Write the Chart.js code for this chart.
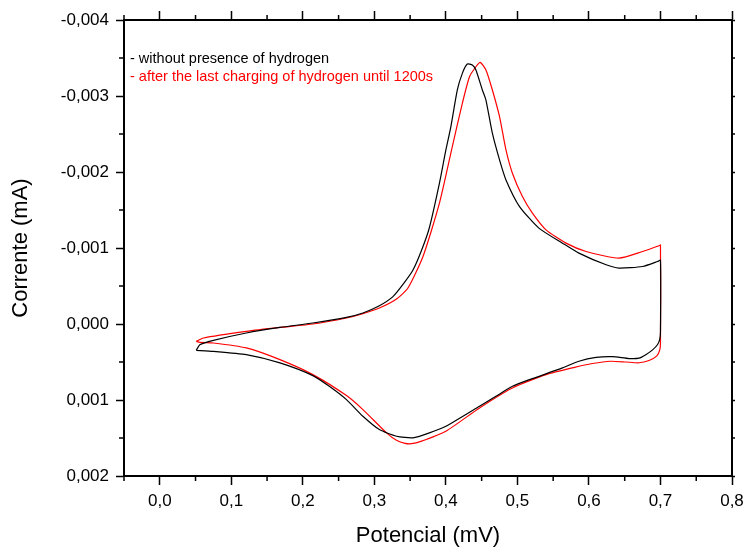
<!DOCTYPE html>
<html><head><meta charset="utf-8">
<script src="https://cdn.jsdelivr.net/npm/chart.js@4"></script>
<style>html,body{margin:0;padding:0;background:#fff}canvas{display:block}</style>
</head><body>
<canvas id="c" width="744" height="547"></canvas>
<script>
// Black: without presence of hydrogen (Potencial, Corrente)
const blackX = [0.051,0.056,0.075,0.121,0.168,0.214,0.261,0.284,0.307,0.326,0.340,0.354,0.366,0.377,0.391,0.400,0.407,0.416,0.423,0.430,0.437,0.442,0.451,0.456,0.465,0.475,0.484,0.503,0.530,0.563,0.586,0.624,0.642,0.675,0.696,0.700,0.700,0.699,0.696,0.689,0.680,0.670,0.656,0.633,0.610,0.586,0.563,0.517,0.493,0.470,0.447,0.400,0.377,0.354,0.331,0.307,0.284,0.261,0.237,0.214,0.168,0.121,0.075,0.051];
const blackY = [0.000347,0.000272,0.000215,0.000118,0.000045,-0.000013,-0.000087,-0.000145,-0.000240,-0.000360,-0.000520,-0.000710,-0.000970,-0.001270,-0.001853,-0.002290,-0.002597,-0.003079,-0.003298,-0.003420,-0.003407,-0.003342,-0.003079,-0.002947,-0.002510,-0.002159,-0.001896,-0.001545,-0.001262,-0.001064,-0.000933,-0.000779,-0.000736,-0.000757,-0.000823,-0.000840,0.000100,0.000200,0.000270,0.000340,0.000400,0.000450,0.000455,0.000430,0.000440,0.000490,0.000578,0.000732,0.000820,0.000951,0.001083,0.001346,0.001432,0.001498,0.001477,0.001389,0.001214,0.000995,0.000820,0.000679,0.000512,0.000403,0.000360,0.000347];
// Red: after the last charging of hydrogen until 1200s
const redX = [0.051,0.061,0.121,0.168,0.214,0.261,0.284,0.307,0.331,0.347,0.368,0.391,0.409,0.423,0.433,0.442,0.448,0.456,0.465,0.475,0.484,0.493,0.507,0.521,0.540,0.568,0.596,0.642,0.675,0.698,0.700,0.700,0.699,0.695,0.684,0.670,0.652,0.630,0.605,0.580,0.540,0.493,0.447,0.400,0.365,0.352,0.343,0.331,0.317,0.284,0.261,0.214,0.168,0.121,0.075,0.056,0.051];
const redY = [0.000229,0.000184,0.000097,0.000045,0.000000,-0.000079,-0.000135,-0.000210,-0.000329,-0.000473,-0.000888,-0.001590,-0.002334,-0.002904,-0.003254,-0.003385,-0.003443,-0.003342,-0.003079,-0.002728,-0.002290,-0.001984,-0.001677,-0.001459,-0.001239,-0.001064,-0.000954,-0.000867,-0.000954,-0.001029,-0.001040,0.000250,0.000340,0.000420,0.000480,0.000510,0.000500,0.000490,0.000520,0.000570,0.000666,0.000841,0.001104,0.001411,0.001545,0.001575,0.001570,0.001530,0.001432,0.001126,0.000942,0.000666,0.000469,0.000315,0.000250,0.000242,0.000229];

const xTickValues = [0,0.1,0.2,0.3,0.4,0.5,0.6,0.7,0.8];
const xTickLabels = ['0,0','0,1','0,2','0,3','0,4','0,5','0,6','0,7','0,8'];
const yTickValues = [-0.004,-0.003,-0.002,-0.001,0,0.001,0.002];
const yTickLabels = ['-0,004','-0,003','-0,002','-0,001','0,000','0,001','0,002'];
const xMinorValues = [-0.05,0.05,0.15,0.25,0.35,0.45,0.55,0.65,0.75];
const yMinorValues = [-0.0035,-0.0025,-0.0015,-0.0005,0.0005,0.0015];
const seriesLabels = ['- without presence of hydrogen','- after the last charging of hydrogen until 1200s'];
const seriesColors = ['#000000','#ff0000'];

const FONT = "'Liberation Sans', Arial, Helvetica, sans-serif";

const minorTicks = {
  id: 'minorTicks',
  afterDraw(chart) {
    const ctx = chart.ctx, s = chart.scales;
    ctx.save();
    ctx.strokeStyle = '#000';
    ctx.lineWidth = 1.5;
    ctx.beginPath();
    xMinorValues.forEach(v => {
      const px = s.x.getPixelForValue(v);
      ctx.moveTo(px, s.x.top); ctx.lineTo(px, s.x.top + 5);
      ctx.moveTo(px, s.x2.bottom); ctx.lineTo(px, s.x2.bottom - 5);
    });
    yMinorValues.forEach(v => {
      const py = s.y.getPixelForValue(v);
      ctx.moveTo(s.y.right, py); ctx.lineTo(s.y.right - 5, py);
      ctx.moveTo(s.y2.left, py); ctx.lineTo(s.y2.left + 3, py);
    });
    ctx.stroke();
    ctx.restore();
  }
};

const innerLegend = {
  id: 'innerLegend',
  afterDraw(chart) {
    const ctx = chart.ctx, a = chart.chartArea;
    ctx.save();
    ctx.font = '14.5px ' + FONT;
    ctx.textBaseline = 'middle';
    ctx.textAlign = 'left';
    seriesLabels.forEach((t, i) => {
      ctx.fillStyle = seriesColors[i];
      ctx.fillText(t, a.left + 6, a.top + 39 + i * 18);
    });
    ctx.restore();
  }
};

function pts(xs, ys) { return xs.map((x, i) => ({x: x, y: ys[i]})); }

const gridBase = {drawOnChartArea: false, drawTicks: true, tickColor: '#000', tickWidth: 1.5, color: '#000'};
const borderBase = {display: true, color: '#000', width: 2};
function noPad(s) { s.paddingLeft = 0; s.paddingRight = 0; s.paddingTop = 0; s.paddingBottom = 0; }

new Chart(document.getElementById('c'), {
  type: 'scatter',
  data: {
    datasets: [
      {label: seriesLabels[0], data: pts(blackX, blackY), showLine: true, borderColor: seriesColors[0], borderWidth: 1.2, pointRadius: 0, tension: 0.2, xAxisID: 'x', yAxisID: 'y'},
      {label: seriesLabels[1], data: pts(redX, redY), showLine: true, borderColor: seriesColors[1], borderWidth: 1.2, pointRadius: 0, tension: 0.2, xAxisID: 'x', yAxisID: 'y'}
    ]
  },
  options: {
    responsive: false,
    animation: false,
    devicePixelRatio: 1,
    layout: {padding: 0},
    plugins: {legend: {display: false}, tooltip: {enabled: false}},
    scales: {
      x: {
        type: 'linear', position: 'bottom', min: -0.05, max: 0.8,
        afterBuildTicks: s => { s.ticks = xTickValues.map(v => ({value: v})); },
        afterFit: s => { s.height = 71; noPad(s); },
        ticks: {callback: (v, i) => xTickLabels[i], color: '#000', font: {family: FONT, size: 17}, padding: 6, maxRotation: 0, autoSkip: false},
        grid: Object.assign({}, gridBase, {tickLength: 9}),
        border: borderBase,
        title: {display: true, text: 'Potencial (mV)', color: '#000', font: {family: FONT, size: 22, lineHeight: 1}, padding: {top: 0, bottom: 0}}
      },
      x2: {
        type: 'linear', position: 'top', min: -0.05, max: 0.8,
        afterBuildTicks: s => { s.ticks = xTickValues.map(v => ({value: v})); },
        afterFit: s => { s.height = 20; noPad(s); },
        ticks: {callback: () => '', maxRotation: 0, autoSkip: false},
        grid: Object.assign({}, gridBase, {tickLength: 9}),
        border: borderBase
      },
      y: {
        type: 'linear', position: 'left', min: -0.004, max: 0.002, reverse: true,
        afterBuildTicks: s => { s.ticks = yTickValues.map(v => ({value: v})); },
        afterFit: s => { s.width = 124; noPad(s); },
        ticks: {callback: (v, i) => yTickLabels[i], color: '#000', font: {family: FONT, size: 17}, padding: 7, autoSkip: false},
        grid: Object.assign({}, gridBase, {tickLength: 8}),
        border: borderBase,
        title: {display: true, text: 'Corrente (mA)', color: '#000', font: {family: FONT, size: 22, lineHeight: 1}, padding: {top: 10, bottom: 0}}
      },
      y2: {
        type: 'linear', position: 'right', min: -0.004, max: 0.002, reverse: true,
        afterBuildTicks: s => { s.ticks = yTickValues.map(v => ({value: v})); },
        afterFit: s => { s.width = 12; noPad(s); },
        ticks: {callback: () => '', autoSkip: false},
        grid: Object.assign({}, gridBase, {tickLength: 3}),
        border: borderBase
      }
    }
  },
  plugins: [minorTicks, innerLegend]
});
</script>
</body></html>
